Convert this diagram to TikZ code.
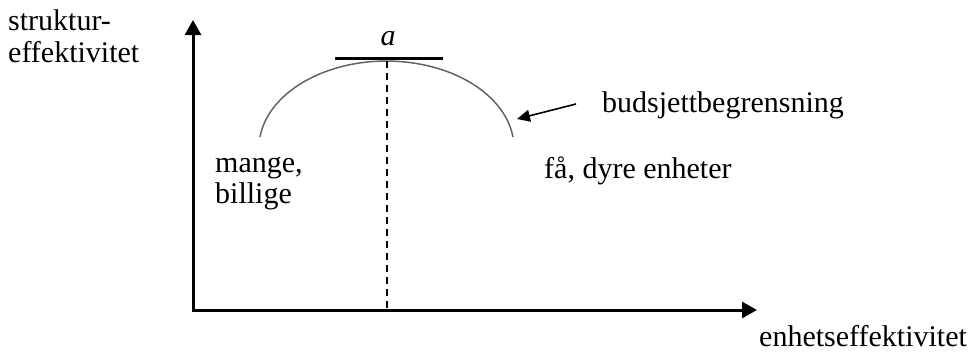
\documentclass[tikz,border=0pt]{standalone}
\usepackage{fontspec}
\setmainfont{Liberation Serif}
\usetikzlibrary{arrows.meta}
\begin{document}
\begin{tikzpicture}[x=1pt,y=-1pt,
  lbl/.style={anchor=base west,inner sep=0pt,font=\fontsize{30}{31}\selectfont},
  axis/.style={line width=3pt,{Triangle[length=15pt,width=16pt]}-{Triangle[length=15pt,width=16pt]}},
  curve/.style={line width=1.5pt,draw={rgb,255:red,100;green,100;blue,100}},
  guide/.style={line width=1.3pt,dash pattern=on 7pt off 5pt},
  pointer/.style={line width=1.6pt,-{Triangle[length=13pt,width=12pt]}}]
\useasboundingbox (0,0) rectangle (975,351);
\coordinate (ytip) at (193,20);
\coordinate (origin) at (193,310);
\coordinate (xtip) at (757,310);
\draw[axis] (ytip) |- (xtip);
% curve
\coordinate (cl) at (260,137);
\draw[curve] (cl) arc[start angle=-172.7,end angle=-7.3,x radius=127.5,y radius=87];
% optimum bar
\coordinate (bl) at (335,58.7);
\coordinate (br) at (443,58.7);
\draw[line width=3.3pt] (bl) -- (br);
\coordinate (dtop) at (387,61);
\coordinate (dbot) at (387,310);
\draw[guide] (dtop) -- (dbot);
\node[lbl,anchor=base] (a) at (388,45) {\itshape a};
% labels
\node[lbl] (s1) at (8,30) {struktur-};
\node[lbl] (s2) at (8,62) {effektivitet};
\node[lbl] (m1) at (215,172) {mange,};
\node[lbl] (m2) at (215,203) {billige};
\node[lbl] (f) at (544,178) {få, dyre enheter};
\node[lbl] (b) at (602,112) {budsjettbegrensning};
\node[lbl] (e) at (759,346) {enhetseffektivitet};
\coordinate (ptail) at (576,104);
\coordinate (ptip) at (517,119);
\draw[pointer] (ptail) -- (ptip);
\end{tikzpicture}
\end{document}
